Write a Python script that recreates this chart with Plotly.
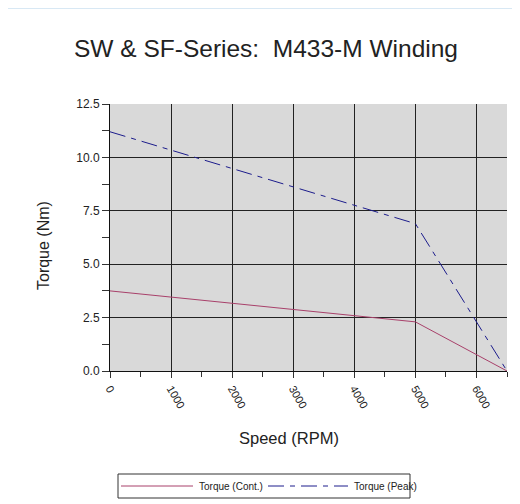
import plotly.graph_objects as go

speed = [0, 5000, 6500]
torque_cont = [3.75, 2.3, 0.0]
torque_peak = [11.2, 6.9, 0.0]

x_ticks = [0, 1000, 2000, 3000, 4000, 5000, 6000]
y_ticks = [0.0, 2.5, 5.0, 7.5, 10.0, 12.5]

names = ["Torque (Cont.)", "Torque (Peak)"]
colors = ["#a8406a", "#1c1c8c"]
dashes = ["solid", "16px,6px,5px,6px"]

font = "Liberation Sans, Arial, sans-serif"
W, H = 512, 496
L, R, T, B = 102, 13, 96, 133
PW, PH = W - L - R, H - T - B


def px(X):
    return (X - L) / PW


def py(Y):
    return (H - B - Y) / PH


fig = go.Figure()
for ys, n, c, d in zip([torque_cont, torque_peak], names, colors, dashes):
    fig.add_trace(go.Scatter(x=speed, y=ys, mode="lines", name=n, showlegend=False,
                             line=dict(color=c, width=1, dash=d)))

fig.update_layout(
    width=W, height=H,
    margin=dict(l=L, r=R, t=T, b=B),
    paper_bgcolor="white", plot_bgcolor="#d9d9d9",
    font=dict(family=font, color="#222"),
    title=dict(text="SW & SF-Series:  M433-M Winding", x=258 / W, xanchor="center",
               y=1 - 40 / H, yanchor="middle", font=dict(size=24.5, color="#222")),
    xaxis=dict(range=[0, 6500], tickvals=x_ticks, ticktext=[str(v) for v in x_ticks],
               tickangle=60, tickfont=dict(size=11, color="#222"),
               showgrid=True, gridcolor="#222", gridwidth=1,
               ticks="outside", ticklen=6, tickcolor="#333",
               minor=dict(dtick=500, ticks="outside", ticklen=5, tickcolor="#333", showgrid=False),
               showline=True, linecolor="#111", linewidth=1, zeroline=False),
    yaxis=dict(range=[0, 12.5], tickvals=y_ticks, tickformat=".1f",
               tickfont=dict(size=12, color="#222"),
               showgrid=True, gridcolor="#222", gridwidth=1,
               ticks="outside", ticklen=7, tickcolor="#333",
               minor=dict(dtick=1.25, ticks="outside", ticklen=7, tickcolor="#333", showgrid=False),
               showline=True, linecolor="#111", linewidth=1, zeroline=False),
    showlegend=False,
)

# axis titles
fig.add_annotation(xref="paper", yref="paper", x=px(281), y=py(430), text="Speed (RPM)",
                   showarrow=False, xanchor="center", yanchor="middle",
                   font=dict(size=16.5, color="#222"))
fig.add_annotation(xref="paper", yref="paper", x=px(35), y=py(238), text="Torque (Nm)",
                   showarrow=False, xanchor="center", yanchor="middle", textangle=-90,
                   font=dict(size=16, color="#222"))

# top separator line
fig.add_shape(type="line", xref="paper", yref="paper", x0=px(0), x1=px(W),
              y0=py(0.5), y1=py(0.5), line=dict(color="#d8e8f4", width=1))

# manual legend
fig.add_shape(type="rect", xref="paper", yref="paper", x0=px(110), x1=px(402),
              y0=py(490), y1=py(466), line=dict(color="#333", width=1), fillcolor="white")
leg = [(113, 185, 189), (260, 340, 344)]
for (lx0, lx1, tx), n, c, d in zip(leg, names, colors, dashes):
    fig.add_shape(type="line", xref="paper", yref="paper", x0=px(lx0), x1=px(lx1),
                  y0=py(478), y1=py(478), line=dict(color=c, width=1, dash=d))
    fig.add_annotation(xref="paper", yref="paper", x=px(tx), y=py(478), text=n,
                       showarrow=False, xanchor="left", yanchor="middle",
                       font=dict(size=10, color="#222"))

fig.write_html("out.html")
